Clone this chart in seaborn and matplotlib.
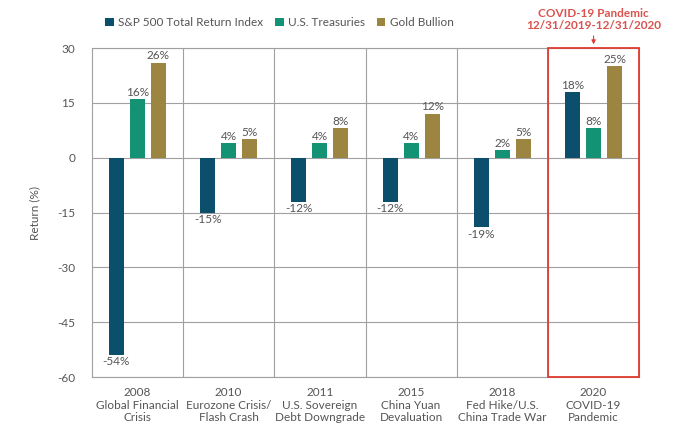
import matplotlib.pyplot as plt
import pandas as pd
import seaborn as sns
from matplotlib.patches import Rectangle

# Data
events = ["2008\nGlobal Financial\nCrisis", "2010\nEurozone Crisis/\nFlash Crash",
          "2011\nU.S. Sovereign\nDebt Downgrade", "2015\nChina Yuan\nDevaluation",
          "2018\nFed Hike/U.S.\nChina Trade War", "2020\nCOVID-19\nPandemic"]
series = ["S&P 500 Total Return Index", "U.S. Treasuries", "Gold Bullion"]
sp500 = [-54, -15, -12, -12, -19, 18]
treasuries = [16, 4, 4, 4, 2, 8]
gold = [26, 5, 8, 12, 5, 25]
yticks = [-60, -45, -30, -15, 0, 15, 30]

colors = ["#0b4f6c", "#139373", "#9b8540"]

df = pd.DataFrame({
    "event": events * 3,
    "series": [series[0]] * 6 + [series[1]] * 6 + [series[2]] * 6,
    "value": sp500 + treasuries + gold,
})

sns.set_style("white")
plt.rcParams["font.family"] = ["Lato", "DejaVu Sans"]

fig = plt.figure(figsize=(6.8, 4.33), dpi=100)
ax = fig.add_axes([0.135, 0.1293, 0.805, 0.7597])

sns.barplot(data=df, x="event", y="value", hue="series", order=events,
            hue_order=series, palette=colors, width=0.69, gap=0.28,
            saturation=1, linewidth=0, ax=ax, legend=True)

ax.set_ylim(-60, 30)
ax.set_xlim(-0.5, 5.5)
ax.set_yticks(yticks)
ax.set_yticklabels([str(t) for t in yticks])
ax.tick_params(axis="y", labelsize=8.5, labelcolor="#555555", length=3, color="#a0a0a0", pad=9)
ax.tick_params(axis="x", labelsize=8.5, labelcolor="#555555", length=0, pad=7)
ax.set_xlabel("")
ax.set_ylabel("Return (%)", fontsize=8.5, color="#555555", labelpad=12)

# grid lines and group dividers
ax.yaxis.grid(True, color="#a0a0a0", linewidth=0.8)
for x in range(5):
    ax.axvline(x + 0.5, color="#a0a0a0", linewidth=0.8, zorder=0)
ax.set_axisbelow(True)
for s in ax.spines.values():
    s.set_color("#a0a0a0")
    s.set_linewidth(0.8)

# value labels
for cont in ax.containers:
    labels = [f"{int(round(v))}%" for v in cont.datavalues]
    ax.bar_label(cont, labels=labels, padding=1, fontsize=8.5, color="#555555")

# legend
handles, labels = ax.get_legend_handles_labels()
ax.legend(handles, labels, loc="lower left", bbox_to_anchor=(0.025, 1.06), ncol=3,
          frameon=False, fontsize=8.5, handlelength=0.7, handleheight=0.7,
          handletextpad=0.4, columnspacing=1.0, labelcolor="#555555", borderpad=0,
          borderaxespad=0)

# highlight box for 2020
red = "#e03c31"
ax.add_patch(Rectangle((4.5, -60), 1.0, 90, fill=False, edgecolor=red,
                       linewidth=1.3, clip_on=False, zorder=5))
ax.annotate("COVID-19 Pandemic\n12/31/2019-12/31/2020", xy=(5.0, 31.0), xytext=(5.0, 34.6),
            ha="center", va="bottom", fontsize=8.5, fontweight="bold", color="#d9534f",
            annotation_clip=False, linespacing=1.15,
            arrowprops=dict(arrowstyle="-|>", color=red, lw=0.8, mutation_scale=6,
                            shrinkA=1, shrinkB=0))

fig.savefig("out.png", dpi=100)
